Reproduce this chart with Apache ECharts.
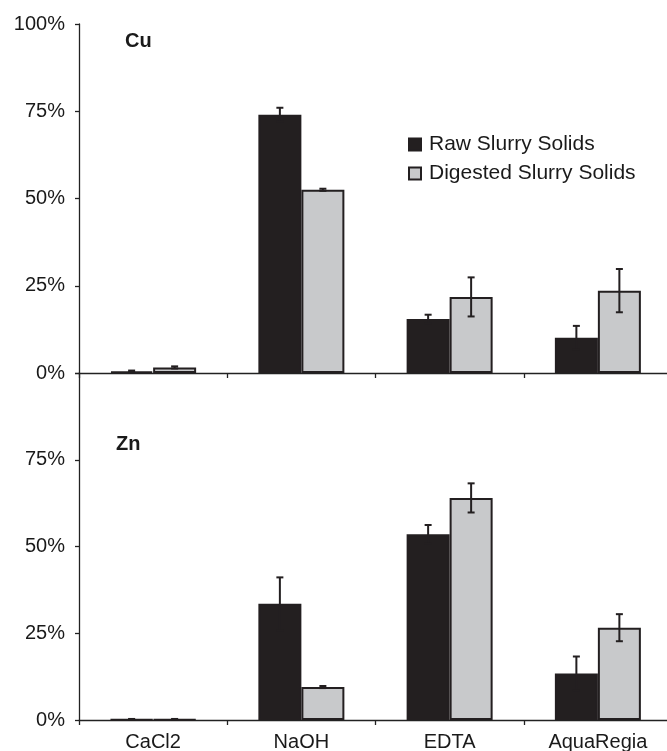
<!DOCTYPE html>
<html>
<head>
<meta charset="utf-8">
<script src="https://cdn.jsdelivr.net/npm/echarts@6/dist/echarts.min.js"></script>
<style>
html,body{margin:0;padding:0;background:#fff;}
#chart{width:667px;height:751px;}
</style>
</head>
<body>
<div id="chart"></div>
<script>
const categories = ['CaCl2', 'NaOH', 'EDTA', 'AquaRegia'];
const seriesNames = ['Raw Slurry Solids', 'Digested Slurry Solids'];
const yTicks = [0, 25, 50, 75, 100];

const cuRaw = [0.5, 74.0, 15.5, 10.1];
const cuRawErr = [0.2, 2.0, 1.2, 3.4];
const cuDig = [1.6, 52.5, 21.8, 23.6];
const cuDigErr = [0.3, 0.3, 5.6, 6.2];

const znRaw = [0.2, 33.5, 53.5, 13.4];
const znRawErr = [0.1, 7.6, 2.7, 4.9];
const znDig = [0.2, 9.5, 64.0, 26.6];
const znDigErr = [0.1, 0.3, 4.2, 3.9];

const FONT = 'Liberation Sans, Arial, sans-serif';
const TEXT = '#1a1a1a';
const RAW_COLOR = '#231f20';
const DIG_COLOR = '#c8c9cb';
const BORDER = '#231f20';
const BAR_W = 43;

function errData(vals, errs) {
  return vals.map((v, i) => [i, v, errs[i]]);
}

function errSeries(name, vals, errs, axisIdx, offset) {
  return {
    type: 'custom',
    name: name + ' err',
    xAxisIndex: axisIdx,
    yAxisIndex: axisIdx,
    silent: true,
    z: 5,
    data: errData(vals, errs),
    encode: { x: 0, y: 1 },
    renderItem: function (params, api) {
      const xi = api.value(0);
      const v = api.value(1);
      const e = api.value(2);
      const hi = api.coord([xi, v + e]);
      const lo = api.coord([xi, Math.max(0, v - e)]);
      const x = hi[0] + offset;
      const cap = 3.5;
      const st = { stroke: '#231f20', lineWidth: 2 };
      return {
        type: 'group',
        children: [
          { type: 'line', shape: { x1: x, y1: hi[1], x2: x, y2: lo[1] }, style: st },
          { type: 'line', shape: { x1: x - cap, y1: hi[1], x2: x + cap, y2: hi[1] }, style: st },
          { type: 'line', shape: { x1: x - cap, y1: lo[1], x2: x + cap, y2: lo[1] }, style: st }
        ]
      };
    }
  };
}

function barSeries(name, vals, axisIdx, color) {
  return {
    type: 'bar',
    name: name,
    xAxisIndex: axisIdx,
    yAxisIndex: axisIdx,
    data: vals,
    barWidth: BAR_W,
    barGap: '0%',
    itemStyle: { color: color, borderColor: BORDER, borderWidth: 2 },
    emphasis: { disabled: true },
    z: 2
  };
}

const axisLineStyle = { color: '#222', width: 1.3 };

function xAxis(idx, showLabels) {
  return {
    type: 'category',
    gridIndex: idx,
    data: categories,
    boundaryGap: true,
    axisLine: { lineStyle: axisLineStyle },
    axisTick: { show: true, inside: false, length: 5, lineStyle: axisLineStyle },
    axisLabel: {
      show: showLabels, color: TEXT, fontFamily: FONT, fontSize: 20, margin: 12
    },
    splitLine: { show: false }
  };
}

function yAxis(idx, hideTop) {
  return {
    type: 'value',
    gridIndex: idx,
    min: 0,
    max: 100,
    interval: 25,
    axisLine: { show: true, lineStyle: axisLineStyle },
    axisTick: { show: true, length: 4, lineStyle: axisLineStyle },
    axisLabel: {
      color: TEXT, fontFamily: FONT, fontSize: 20, margin: 14,
      formatter: function (v) {
        if (hideTop && v === yTicks[yTicks.length - 1]) return '';
        return v + '%';
      }
    },
    splitLine: { show: false }
  };
}

const chart = echarts.init(document.getElementById('chart'), null, { renderer: 'canvas' });
chart.setOption({
  animation: false,
  backgroundColor: '#fff',
  grid: [
    { left: 79, top: 24, width: 593, height: 349, outerBoundsMode: 'none', containLabel: false },
    { left: 79, top: 373, width: 593, height: 347, outerBoundsMode: 'none', containLabel: false }
  ],
  xAxis: [xAxis(0, false), xAxis(1, true)],
  yAxis: [yAxis(0, false), yAxis(1, true)],
  legend: {
    orient: 'vertical',
    left: 403,
    top: 129,
    itemWidth: 12,
    itemHeight: 12,
    itemGap: 8,
    icon: 'rect',
    data: seriesNames,
    textStyle: { color: TEXT, fontFamily: FONT, fontSize: 21, padding: [0, 0, 0, 3] }
  },
  graphic: [
    { type: 'text', left: 125, top: 31, style: { text: 'Cu', font: 'bold 20px ' + FONT, fill: TEXT } },
    { type: 'text', left: 116, top: 434, style: { text: 'Zn', font: 'bold 20px ' + FONT, fill: TEXT } }
  ],
  series: [
    barSeries(seriesNames[0], cuRaw, 0, RAW_COLOR),
    barSeries(seriesNames[1], cuDig, 0, DIG_COLOR),
    barSeries(seriesNames[0], znRaw, 1, RAW_COLOR),
    barSeries(seriesNames[1], znDig, 1, DIG_COLOR),
    errSeries('cuRaw', cuRaw, cuRawErr, 0, -BAR_W / 2),
    errSeries('cuDig', cuDig, cuDigErr, 0, BAR_W / 2),
    errSeries('znRaw', znRaw, znRawErr, 1, -BAR_W / 2),
    errSeries('znDig', znDig, znDigErr, 1, BAR_W / 2)
  ]
});
</script>
</body>
</html>
